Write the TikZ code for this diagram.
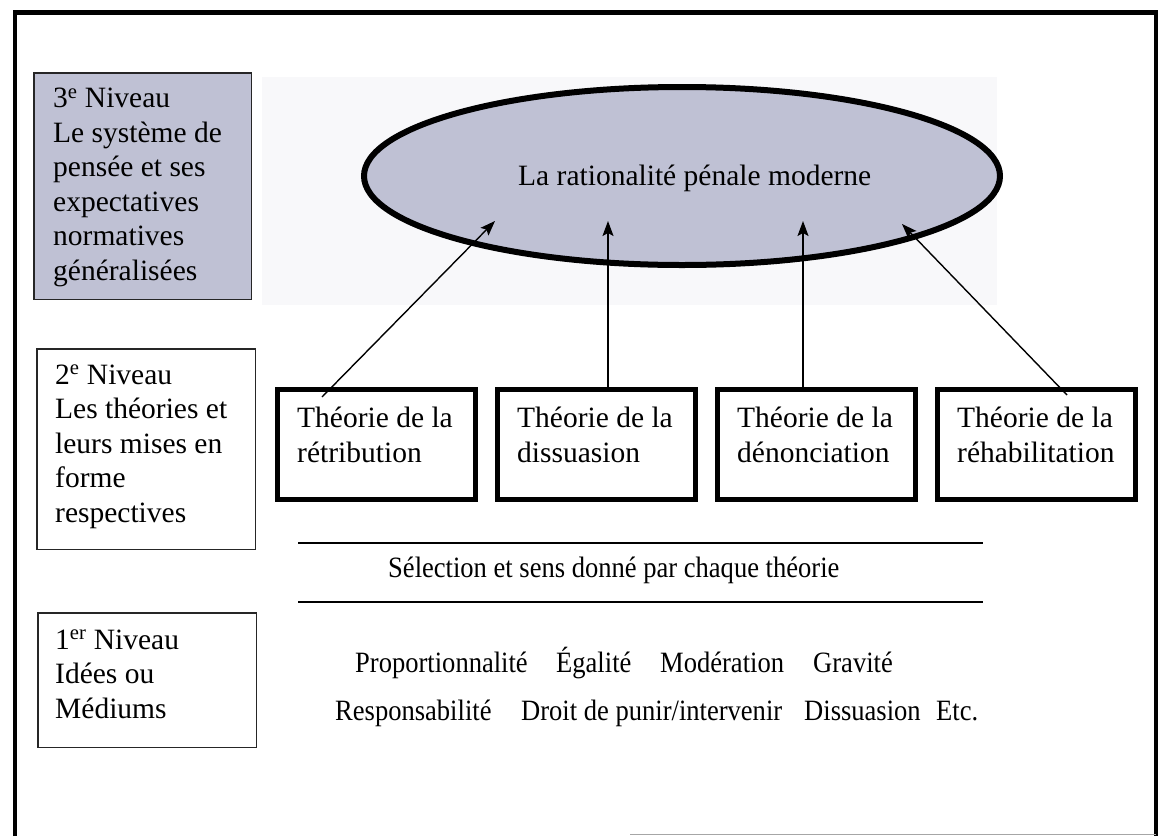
\documentclass[tikz,border=0pt]{standalone}
\usepackage{fontspec}
\setmainfont{Liberation Serif}
\newfontfamily\condfont{Liberation Serif}[FakeStretch=0.9]
\usetikzlibrary{calc,shapes.geometric,arrows.meta}
\definecolor{lav}{RGB}{191,193,212}
\definecolor{faint}{RGB}{248,248,250}
\begin{document}
\begin{tikzpicture}[x=1pt,y=-1pt,
  font=\fontsize{29.5}{34.5}\selectfont,
  lvlbox/.style={draw=black!85, line width=1.5pt, inner sep=0pt},
  thbox/.style={draw=black, line width=5pt, inner sep=0pt, minimum width=198pt, minimum height=110pt},
  lbl/.style={inner sep=0pt, align=left, anchor=base west},
  cond/.style={inner sep=0pt, anchor=base west, font=\condfont\fontsize{29.5}{34.5}\selectfont},
  conn/.style={line width=1.4pt, -{Stealth[length=15pt,width=11pt,inset=3pt]}},
  sep/.style={line width=1.8pt},
]
\useasboundingbox (0,0) rectangle (1160,836);
% frame
\draw[line width=4.5pt] (15,836) -- (15,12.5) -- (1156,12.5) -- (1156,836);
\draw[black!35, line width=1.5pt] (630,834.5) -- (1156,834.5);
% faint background behind ellipse
\fill[faint] (262,77) rectangle (997,305);
% level boxes (text anchored at the baseline of the last line)
\node[lvlbox, fill=lav, minimum width=217.5pt, minimum height=226.5pt] (n3) at (142.5,186) {};
\node[lbl] (t3) at (53,280) {3\textsuperscript{e} Niveau\\Le système de\\pensée et ses\\expectatives\\normatives\\généralisées};
\node[lvlbox, minimum width=218.5pt, minimum height=200.5pt] (n2) at (146,449) {};
\node[lbl] (t2) at (55,522) {2\textsuperscript{e} Niveau\\Les théories et\\leurs mises en\\forme\\respectives};
\node[lvlbox, minimum width=218.5pt, minimum height=134.5pt] (n1) at (147,680) {};
\node[lbl] (t1) at (55,718) {1\textsuperscript{er} Niveau\\Idées ou\\Médiums};
% ellipse
\node[ellipse, draw, line width=6pt, fill=lav, minimum width=636pt, minimum height=178pt, inner sep=0pt] (ell) at (682,176) {};
\node[inner sep=0pt, anchor=base west] (title) at (518,185) {La rationalité pénale moderne};
% theory boxes
\node[thbox] (b1) at (376.5,444.5) {};
\node[thbox] (b2) at (596.5,444.5) {};
\node[thbox] (b3) at (816.5,444.5) {};
\node[thbox] (b4) at (1036.5,444.5) {};
\node[lbl] (tb1) at (297,462) {Théorie de la\\rétribution};
\node[lbl] (tb2) at (517,462) {Théorie de la\\dissuasion};
\node[lbl] (tb3) at (737,462) {Théorie de la\\dénonciation};
\node[lbl] (tb4) at (957,462) {Théorie de la\\réhabilitation};
% arrows
\coordinate (s1) at (322,397);
\coordinate (e1) at (495,221);
\coordinate (e2) at (608,221);
\coordinate (e3) at (803,221);
\coordinate (s4) at (1067,395);
\coordinate (e4) at (902,224);
\draw[conn] (s1) -- (e1);
\draw[conn] (e2 |- b2.north) -- (e2);
\draw[conn] (e3 |- b3.north) -- (e3);
\draw[conn] (s4) -- (e4);
% separator lines
\coordinate (la) at (298,543);
\coordinate (lb) at (983,543);
\coordinate (lc) at (298,602);
\coordinate (ld) at (983,602);
\draw[sep] (la) -- (lb);
\draw[sep] (lc) -- (ld);
\node[cond] (sel) at (388,577) {Sélection et sens donné par chaque théorie};
% level 1 ideas
\node[cond] (i1) at (355,672) {Proportionnalité};
\node[cond] (i2) at (556,672) {Égalité};
\node[cond] (i3) at (660,672) {Modération};
\node[cond] (i4) at (813,672) {Gravité};
\node[cond] (i5) at (335,720) {Responsabilité};
\node[cond] (i6) at (521,720) {Droit de punir/intervenir};
\node[cond] (i7) at (804,720) {Dissuasion};
\node[cond] (i8) at (936,720) {Etc.};
\end{tikzpicture}
\end{document}
